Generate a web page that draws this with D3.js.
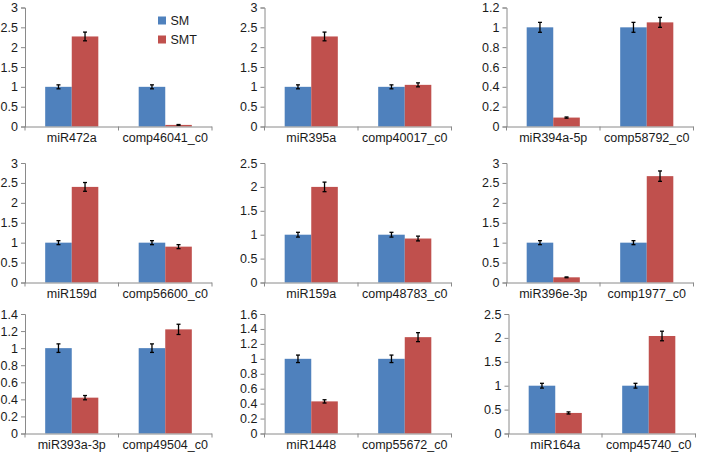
<!DOCTYPE html>
<html>
<head>
<meta charset="utf-8">
<script src="https://cdn.jsdelivr.net/npm/d3@7"></script>
<style>
  body { margin: 0; background: #fff; }
  svg { display: block; font-family: "Liberation Sans", Arial, sans-serif; }
</style>
</head>
<body>
<div id="chart"></div>
<script>
// series names
var seriesNames = ["SM", "SMT"];

// category labels for each of the 9 panels
var panelCategories = [
  ["miR472a", "comp46041_c0"],
  ["miR395a", "comp40017_c0"],
  ["miR394a-5p", "comp58792_c0"],
  ["miR159d", "comp56600_c0"],
  ["miR159a", "comp48783_c0"],
  ["miR396e-3p", "comp1977_c0"],
  ["miR393a-3p", "comp49504_c0"],
  ["miR1448", "comp55672_c0"],
  ["miR164a", "comp45740_c0"]
];

// SM values (per panel, per category)
var smValues = [
  [1, 1], [1, 1], [1, 1],
  [1, 1], [1, 1], [1, 1],
  [1, 1], [1, 1], [1, 1]
];
var smErrors = [
  [0.05, 0.05], [0.05, 0.05], [0.05, 0.05],
  [0.05, 0.05], [0.05, 0.05], [0.05, 0.05],
  [0.05, 0.05], [0.05, 0.05], [0.05, 0.05]
];

// SMT values
var smtValues = [
  [2.27, 0.04], [2.27, 1.05], [0.09, 1.05],
  [2.4, 0.9], [2.0, 0.92], [0.13, 2.67],
  [0.42, 1.22], [0.43, 1.29], [0.43, 2.04]
];
var smtErrors = [
  [0.11, 0.01], [0.11, 0.05], [0.006, 0.05],
  [0.11, 0.05], [0.1, 0.05], [0.01, 0.13],
  [0.025, 0.06], [0.022, 0.06], [0.022, 0.1]
];

// y axis max and tick step for each panel
var yMax = [3, 3, 1.2, 3, 2.5, 3, 1.4, 1.6, 2.5];
var yStep = [0.5, 0.5, 0.2, 0.5, 0.5, 0.5, 0.2, 0.2, 0.5];

var colors = ["#4f81bd", "#c0504d"];
var axisColor = "#8a8a8a";

var W = 702, H = 453;
// layout: x of the y-axis per column, top/bottom of the plot per row
var colX = [25, 264.5, 506.5];
var rowY = [[7.5, 126.5], [163, 282.5], [314, 433.5]];
var plotW = 187;

var svg = d3.select("#chart").append("svg")
    .attr("width", W)
    .attr("height", H);

panelCategories.forEach(function (cats, i) {
  var col = i % 3, row = Math.floor(i / 3);
  var x0 = colX[col] + (i == 8 ? 2 : 0);
  var top = rowY[row][0], bottom = rowY[row][1];

  var g = svg.append("g");

  var x = d3.scaleBand().domain(cats).range([x0, x0 + plotW]).paddingInner(0).paddingOuter(0);
  var x1 = d3.scaleBand().domain(seriesNames).range([0, x.bandwidth()]).paddingInner(0).paddingOuter(0.76);
  var y = d3.scaleLinear().domain([0, yMax[i]]).range([bottom, top]);

  var ticks = d3.range(0, yMax[i] + yStep[i] / 2, yStep[i]);

  // y axis
  var yAxis = d3.axisLeft(y).tickValues(ticks).tickSize(4).tickPadding(3)
      .tickFormat(function (d) { return +d.toFixed(1); });
  var ya = g.append("g").attr("transform", "translate(" + x0 + ",0)").call(yAxis);
  ya.select(".domain").attr("stroke", axisColor);
  ya.selectAll(".tick line").attr("stroke", axisColor);
  ya.selectAll(".tick text").attr("fill", "#1a1a1a").style("font-size", "12.5px")
      .style("font-family", "Liberation Sans, Arial, sans-serif");

  // bars
  var data = [];
  cats.forEach(function (c, j) {
    data.push({ cat: c, s: "SM", v: smValues[i][j], e: smErrors[i][j] });
    data.push({ cat: c, s: "SMT", v: smtValues[i][j], e: smtErrors[i][j] });
  });

  g.selectAll("rect.bar").data(data).enter().append("rect")
      .attr("class", "bar")
      .attr("x", function (d) { return x(d.cat) + x1(d.s); })
      .attr("width", x1.bandwidth())
      .attr("y", function (d) { return y(d.v); })
      .attr("height", function (d) { return y(0) - y(d.v); })
      .attr("fill", function (d) { return d.s == "SM" ? colors[0] : colors[1]; });

  // error bars
  var eb = g.selectAll("g.err").data(data).enter().append("g").attr("class", "err")
      .attr("stroke", "#000").attr("stroke-width", 1.3);
  eb.append("line")
      .attr("x1", function (d) { return x(d.cat) + x1(d.s) + x1.bandwidth() / 2; })
      .attr("x2", function (d) { return x(d.cat) + x1(d.s) + x1.bandwidth() / 2; })
      .attr("y1", function (d) { return y(d.v + d.e); })
      .attr("y2", function (d) { return y(Math.max(0, d.v - d.e)); });
  [1, -1].forEach(function (sgn) {
    eb.append("line")
        .attr("x1", function (d) { return x(d.cat) + x1(d.s) + x1.bandwidth() / 2 - 2; })
        .attr("x2", function (d) { return x(d.cat) + x1(d.s) + x1.bandwidth() / 2 + 2; })
        .attr("y1", function (d) { return y(Math.max(0, d.v + sgn * d.e)); })
        .attr("y2", function (d) { return y(Math.max(0, d.v + sgn * d.e)); });
  });

  // x axis line with boundary ticks
  g.append("line")
      .attr("x1", x0).attr("x2", x0 + plotW)
      .attr("y1", bottom + 0.5).attr("y2", bottom + 0.5)
      .attr("stroke", axisColor);
  [x0, x0 + plotW / 2, x0 + plotW].forEach(function (tx) {
    g.append("line").attr("x1", tx).attr("x2", tx)
        .attr("y1", bottom).attr("y2", bottom + 4)
        .attr("stroke", axisColor);
  });

  // category labels
  g.selectAll("text.cat").data(cats).enter().append("text")
      .attr("class", "cat")
      .attr("x", function (d) { return x(d) + x.bandwidth() / 2; })
      .attr("y", bottom + 15)
      .attr("text-anchor", "middle")
      .attr("fill", "#1a1a1a")
      .style("font-size", "12.5px")
      .text(function (d) { return d; });
});

// legend in the first panel
var legend = svg.append("g").attr("transform", "translate(158,16.5)");
seriesNames.forEach(function (s, k) {
  legend.append("rect").attr("x", 0).attr("y", k * 19).attr("width", 8).attr("height", 8)
      .attr("fill", colors[k]);
  legend.append("text").attr("x", 12.5).attr("y", k * 19 + 8.5)
      .attr("fill", "#1a1a1a").style("font-size", "12.5px").text(s);
});
</script>
</body>
</html>
